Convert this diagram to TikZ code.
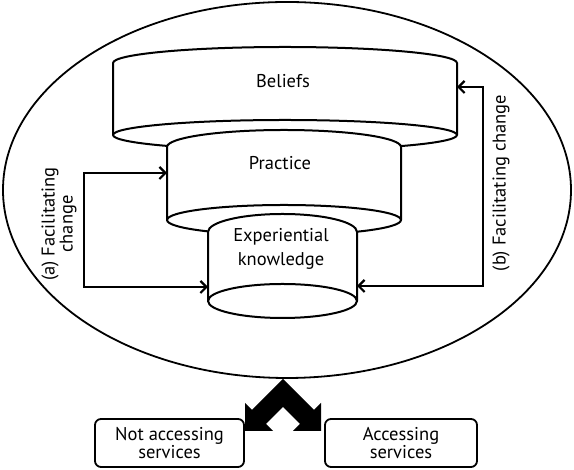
\documentclass[tikz,border=0pt]{standalone}
\usepackage{fontspec}
\setmainfont{PT Sans}
\usetikzlibrary{arrows.meta}

\tikzset{
  drum/.style={line width=2pt, fill=white},
  link/.style={line width=2.2pt,
    {Straight Barb[length=6pt,width=12pt]}-{Straight Barb[length=6pt,width=12pt]}},
  txt/.style={font=\fontsize{18.5}{18}\selectfont, align=center},
  servicebox/.style={txt, draw, line width=1.8pt, rounded corners=6pt,
    minimum width=149pt, minimum height=48pt, inner sep=1pt}
}

% centre x, top y, bottom y, radius, top radius y, bottom radius y
\newcommand\tierdrum[6]{%
  \draw[drum] ({#1-#4},#2) -- ({#1-#4},#3)
    arc[start angle=180, end angle=360, x radius=#4, y radius=#6]
    -- ({#1+#4},#2)
    arc[start angle=0, end angle=180, x radius=#4, y radius=#5] -- cycle;
  \draw[line width=2pt] ({#1-#4},#3)
    arc[start angle=180, end angle=0, x radius=#4, y radius=#6];
}

\begin{document}
\begin{tikzpicture}[x=1pt,y=1pt]
  \useasboundingbox (0,0) rectangle (574,470);
  \draw[line width=1.8pt] (287,280) ellipse [x radius=284, y radius=188];

  % the three tiers
  \tierdrum{285}{407}{335}{172}{16}{15}
  \tierdrum{284}{323}{250}{117}{17}{15}
  \tierdrum{282.5}{238}{169}{74.5}{18}{17}

  \node[txt] (bel) at (283,389) {Beliefs};
  \node[txt] (prac) at (280,307) {Practice};
  \node[txt] (exp) at (281,221) {Experiential\\[6pt]knowledge};

  \coordinate (bel-e) at (457,383);
  \coordinate (prac-w) at (167,297);
  \coordinate (exp-w) at (208,183);
  \coordinate (exp-e) at (357,184);
  \coordinate (a-bend) at (84,297);
  \coordinate (b-bend) at (483,383);

  \draw[link] (exp-w) -| (a-bend) -- (prac-w);
  \draw[link] (exp-e) -| (b-bend) -- (bel-e);

  \node[txt, rotate=90] (fca) at (59,246) {(a) Facilitating\\change};
  \node[txt, rotate=90] (fcb) at (501,287) {(b) Facilitating change};

  % split arrow
  \fill (283,91) -- (252,60) -- (245,67) -- (245,39) -- (273,39) -- (266,46)
    -- (283,63) -- (300,46) -- (293,39) -- (321,39) -- (321,67) -- (314,60) -- cycle;

  \node[servicebox] (notacc) at (169.5,27) {Not accessing\\services};
  \node[servicebox, minimum width=152pt] (acc) at (401,27) {Accessing\\services};
\end{tikzpicture}
\end{document}
